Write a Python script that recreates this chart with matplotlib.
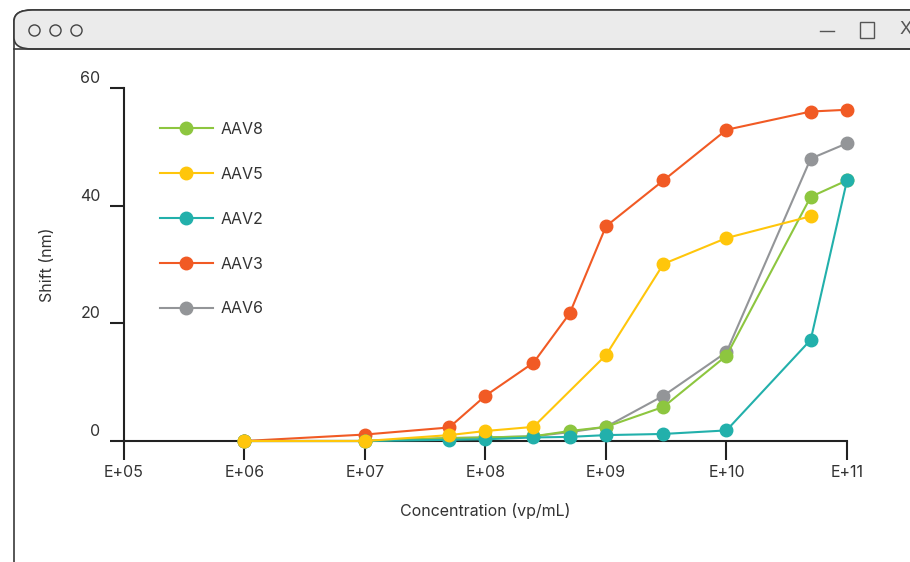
import numpy as np
import matplotlib
matplotlib.use("Agg")
import matplotlib.pyplot as plt
import matplotlib.transforms as mtransforms
from matplotlib.patches import FancyBboxPatch, Rectangle
from matplotlib.lines import Line2D

plt.rcParams['font.family'] = ['Inter', 'DejaVu Sans']

# concentration (vp/mL)
conc = [1e6, 1e7, 5e7, 1e8, 2.5e8, 5e8, 1e9, 3e9, 1e10, 5e10, 1e11]
nan = np.nan
aav8 = [0, 0, 0.5, 0.6, 0.8, 1.7, 2.4, 5.8, 14.5, 41.5, 44.3]
aav5 = [0, 0, 1.0, 1.7, 2.4, nan, 14.6, 30.1, 34.5, 38.2, nan]
aav2 = [0, 0, 0.2, 0.3, 0.6, 0.7, 1.0, 1.2, 1.8, 17.2, 44.3]
aav3 = [0, 1.1, 2.3, 7.7, 13.3, 21.7, 36.5, 44.3, 52.9, 56.0, 56.3]
aav6 = [0, 0, 0.5, 0.6, 0.8, 1.5, 2.4, 7.7, 15.1, 48.0, 50.6]

names = ['AAV8', 'AAV5', 'AAV2', 'AAV3', 'AAV6']
series = [aav8, aav5, aav2, aav3, aav6]
colors = ['#8DC63F', '#FFC60B', '#22B0AB', '#F15A24', '#939598']
zorders = [4, 6, 5, 3, 2]

W, H = 910, 562
fig = plt.figure(figsize=(W / 100, H / 100), dpi=100)

# window frame
win = FancyBboxPatch((14 / W, -0.1), 1.2, (H - 10) / H + 0.1,
                     boxstyle="round,pad=0,rounding_size=0.02",
                     transform=fig.transFigure, facecolor='white',
                     edgecolor='#3a3a3a', linewidth=1.2, zorder=0)
fig.patches.append(win)
bar = FancyBboxPatch((14 / W, 1 - 49 / H), 1.2, 39 / H,
                     boxstyle="round,pad=0,rounding_size=0.02",
                     transform=fig.transFigure, facecolor='#EBEBEB',
                     edgecolor='#3a3a3a', linewidth=1.2, zorder=1)
fig.patches.append(bar)
fig.add_artist(Line2D([14 / W, 1], [1 - 49 / H, 1 - 49 / H], color='#3a3a3a',
                      lw=1.2, transform=fig.transFigure, zorder=2))
fig.add_artist(Line2D([34 / W, 55 / W, 76 / W], [1 - 30 / H] * 3, ls='none',
                      marker='o', ms=8, mfc='none', mec='#444', mew=1,
                      transform=fig.transFigure, zorder=3))
fig.add_artist(Line2D([820 / W, 834 / W], [1 - 31 / H] * 2, color='#555', lw=1,
                      transform=fig.transFigure, zorder=3))
fig.add_artist(Rectangle((860 / W, 1 - 38 / H), 14 / W, 16 / H, transform=fig.transFigure,
                         facecolor='none', edgecolor='#555', lw=1, zorder=3))
fig.text(899 / W, 1 - 30 / H, 'X', fontsize=13, color='#555', va='center', ha='left',
         zorder=3)

ax = fig.add_axes([124 / W, 1 - 441 / H, (847 - 124) / W, (441 - 88) / H])
ax.set_facecolor('none')
ax.set_zorder(10)

for name, ys, c, z in zip(names, series, colors, zorders):
    ys = np.array(ys, dtype=float)
    m = ~np.isnan(ys)
    ax.plot(np.array(conc)[m], ys[m], color=c, lw=1.5, marker='o', ms=9,
            label=name, zorder=z, clip_on=False)

ax.set_xscale('log')
ax.set_xlim(1e5, 1e11)
ax.set_ylim(0, 60)
ax.set_xticks([1e5, 1e6, 1e7, 1e8, 1e9, 1e10, 1e11])
ax.set_xticklabels(['E+05', 'E+06', 'E+07', 'E+08', 'E+09', 'E+10', 'E+11'])
ax.xaxis.set_minor_locator(matplotlib.ticker.NullLocator())
ax.set_yticks([0, 20, 40, 60])

for s in ['top', 'right']:
    ax.spines[s].set_visible(False)
for s in ['left', 'bottom']:
    ax.spines[s].set_color('#222')
    ax.spines[s].set_linewidth(1.5)

ax.tick_params(axis='x', length=14, width=1.5, color='#222', labelsize=11.5,
               labelcolor='#333', pad=3)
ax.tick_params(axis='y', length=10, width=1.5, color='#222', labelsize=11.5,
               labelcolor='#333', pad=7)
off = mtransforms.ScaledTranslation(0, 8 / 72, fig.dpi_scale_trans)
for lab in ax.get_yticklabels():
    lab.set_transform(lab.get_transform() + off)

ax.set_xlabel('Concentration (vp/mL)', fontsize=11.5, color='#333', labelpad=17)
ax.set_ylabel('Shift (nm)', fontsize=11.5, color='#333', labelpad=18)

leg = ax.legend(loc='upper left', bbox_to_anchor=(160 / W, 1 - 122 / H),
                bbox_transform=fig.transFigure, frameon=False, fontsize=11.5,
                handlelength=3.3, handletextpad=0.5, labelspacing=1.87,
                borderpad=0, borderaxespad=0)
for t in leg.get_texts():
    t.set_color('#333')

fig.savefig('out.png', dpi=100)
